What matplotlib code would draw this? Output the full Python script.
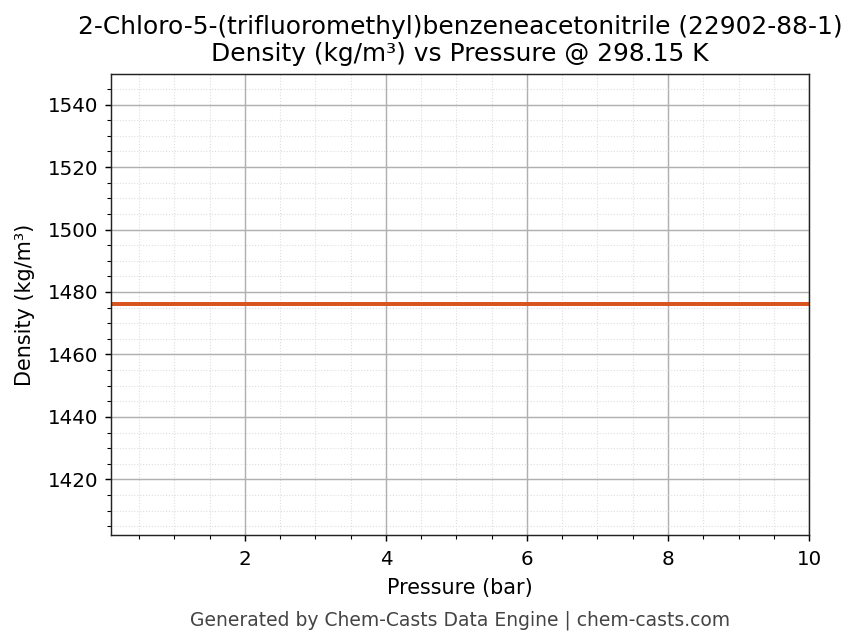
import numpy as np
import matplotlib
matplotlib.use('Agg')
import matplotlib.pyplot as plt
from matplotlib.ticker import AutoMinorLocator

# data
pressure_bar = [0.1, 10.0]
density_kgm3 = [1476.0, 1476.0]

compound = '2-Chloro-5-(trifluoromethyl)benzeneacetonitrile (22902-88-1)'
temp_k = 298.15

fig = plt.figure(figsize=(6.6, 4.954), dpi=130)
ax = fig.add_axes([0.1294, 0.1693, 0.8135, 0.7158])

ax.plot(pressure_bar, density_kgm3, color='#d9531e', linewidth=2.2)

v = np.mean(density_kgm3)
ax.set_xlim(min(pressure_bar), max(pressure_bar))
ax.set_ylim(v * 0.95, v * 1.05)

ax.xaxis.set_minor_locator(AutoMinorLocator())
ax.yaxis.set_minor_locator(AutoMinorLocator())
ax.grid(True, which='major', color='#b0b0b0', linewidth=0.8)
ax.grid(True, which='minor', color='#dddddd', linestyle=':', linewidth=0.6)

for s in ax.spines.values():
    s.set_color('#222222')

ax.set_title(f'{compound}\nDensity (kg/m³) vs Pressure @ {temp_k} K', fontsize=13.8,
             linespacing=1.2, pad=7)
ax.set_xlabel('Pressure (bar)', fontsize=11.5, labelpad=5)
ax.set_ylabel('Density (kg/m³)', fontsize=11.5, labelpad=7)
ax.tick_params(labelsize=11)
ax.tick_params(axis='x', pad=5)

fig.text(0.536, 0.028, 'Generated by Chem-Casts Data Engine | chem-casts.com',
         ha='center', fontsize=10.4, color='#444444')

fig.savefig('out.png', dpi=130)
